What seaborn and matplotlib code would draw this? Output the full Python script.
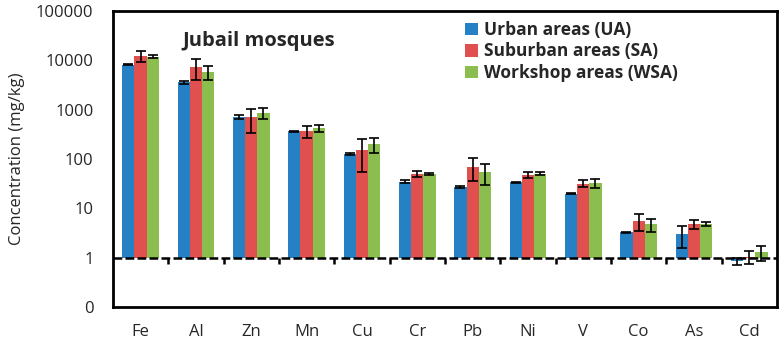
import matplotlib
matplotlib.use("Agg")
import matplotlib.pyplot as plt
import matplotlib.transforms as mtransforms
import numpy as np
import pandas as pd
import seaborn as sns

# === data ===
elements = ["Fe", "Al", "Zn", "Mn", "Cu", "Cr", "Pb", "Ni", "V", "Co", "As", "Cd"]
groups = ["Urban areas (UA)", "Suburban areas (SA)", "Workshop areas (WSA)"]

ua_mean = [8100, 3600, 720, 370, 128, 35, 27.5, 34, 20, 3.3, 3.0, 0.85]
sa_mean = [12500, 7400, 700, 370, 155, 50, 70, 48, 32, 5.6, 4.8, 1.05]
wsa_mean = [12000, 5900, 860, 420, 200, 50, 55, 51, 33, 4.8, 4.9, 1.3]

ua_sd = [200, 250, 60, 8, 8, 2, 1, 1, 0.5, 0.1, 1.4, 0.15]
sa_sd = [3300, 3300, 360, 100, 100, 7, 34, 7, 5, 2.1, 0.9, 0.3]
wsa_sd = [1000, 1900, 220, 65, 70, 3, 25, 4, 7, 1.4, 0.4, 0.45]

colors = ["#2581c4", "#e0504f", "#8cbd4f"]
ytick_vals = [0.1, 1, 10, 100, 1000, 10000, 100000]
ytick_labels = ["0", "1", "10", "100", "1000", "10000", "100000"]


def main() -> None:
    sns.set_style("white")
    plt.rcParams["font.family"] = ["Open Sans", "DejaVu Sans"]

    means = [ua_mean, sa_mean, wsa_mean]
    sds = [ua_sd, sa_sd, wsa_sd]
    df = pd.DataFrame({
        "element": elements * 3,
        "group": np.repeat(groups, len(elements)),
        "value": ua_mean + sa_mean + wsa_mean,
    })

    fig, ax = plt.subplots(figsize=(7.84, 3.47), dpi=100)
    fig.subplots_adjust(left=0.144, right=0.991, bottom=0.115, top=0.968)

    sns.barplot(data=df, x="element", y="value", hue="group", order=elements,
                hue_order=groups, palette=colors, saturation=1, width=0.66,
                gap=0, errorbar=None, linewidth=0, ax=ax)

    # Excel-style: bars grow from the axis crossing at 1
    for cont, m, s in zip(ax.containers, means, sds):
        xs = []
        for bar in cont:
            h = bar.get_height()
            bar.set_y(1)
            bar.set_height(h - 1)
            xs.append(bar.get_x() + bar.get_width() / 2)
        ax.errorbar(xs, m, yerr=s, fmt="none", ecolor="black", elinewidth=1.2,
                    capsize=3.5, capthick=1.2, zorder=5)

    ax.set_yscale("log")
    ax.set_ylim(0.1, 100000)
    ax.set_xlim(-0.5, len(elements) - 0.5)
    ax.set_yticks(ytick_vals)
    ax.set_yticklabels(ytick_labels)
    ax.yaxis.set_minor_locator(matplotlib.ticker.NullLocator())
    ax.tick_params(axis="y", length=0, pad=14, labelsize=12)
    ax.tick_params(axis="x", length=0, pad=12, labelsize=12)
    ax.set_xlabel("")
    ax.set_ylabel("Concentration (mg/kg)", fontsize=12, labelpad=8)

    # dashed axis line at 1 with category separators
    ax.axhline(1, color="black", lw=1.8, dashes=(3.5, 1.3), zorder=4)
    trans = mtransforms.blended_transform_factory(ax.transData, ax.transAxes)
    y1 = 1 / 6
    ax.vlines(np.arange(len(elements) - 1) + 0.5, y1 - 0.02, y1, color="black",
              lw=1.8, transform=trans, zorder=4)

    for sp in ax.spines.values():
        sp.set_visible(True)
        sp.set_color("black")
        sp.set_linewidth(2)

    ax.text(0.104, 0.9, "Jubail mosques", transform=ax.transAxes,
            fontsize=14.5, fontweight="bold", va="center", ha="left")

    sns.move_legend(ax, "upper left", bbox_to_anchor=(0.52, 0.99), frameon=False,
                    title=None, prop={"weight": "bold", "size": 12.5},
                    handlelength=0.75, handleheight=0.75, handletextpad=0.35,
                    labelspacing=0.2, borderaxespad=0)

    plt.savefig("out.png", dpi=100)


if __name__ == "__main__":
    main()
